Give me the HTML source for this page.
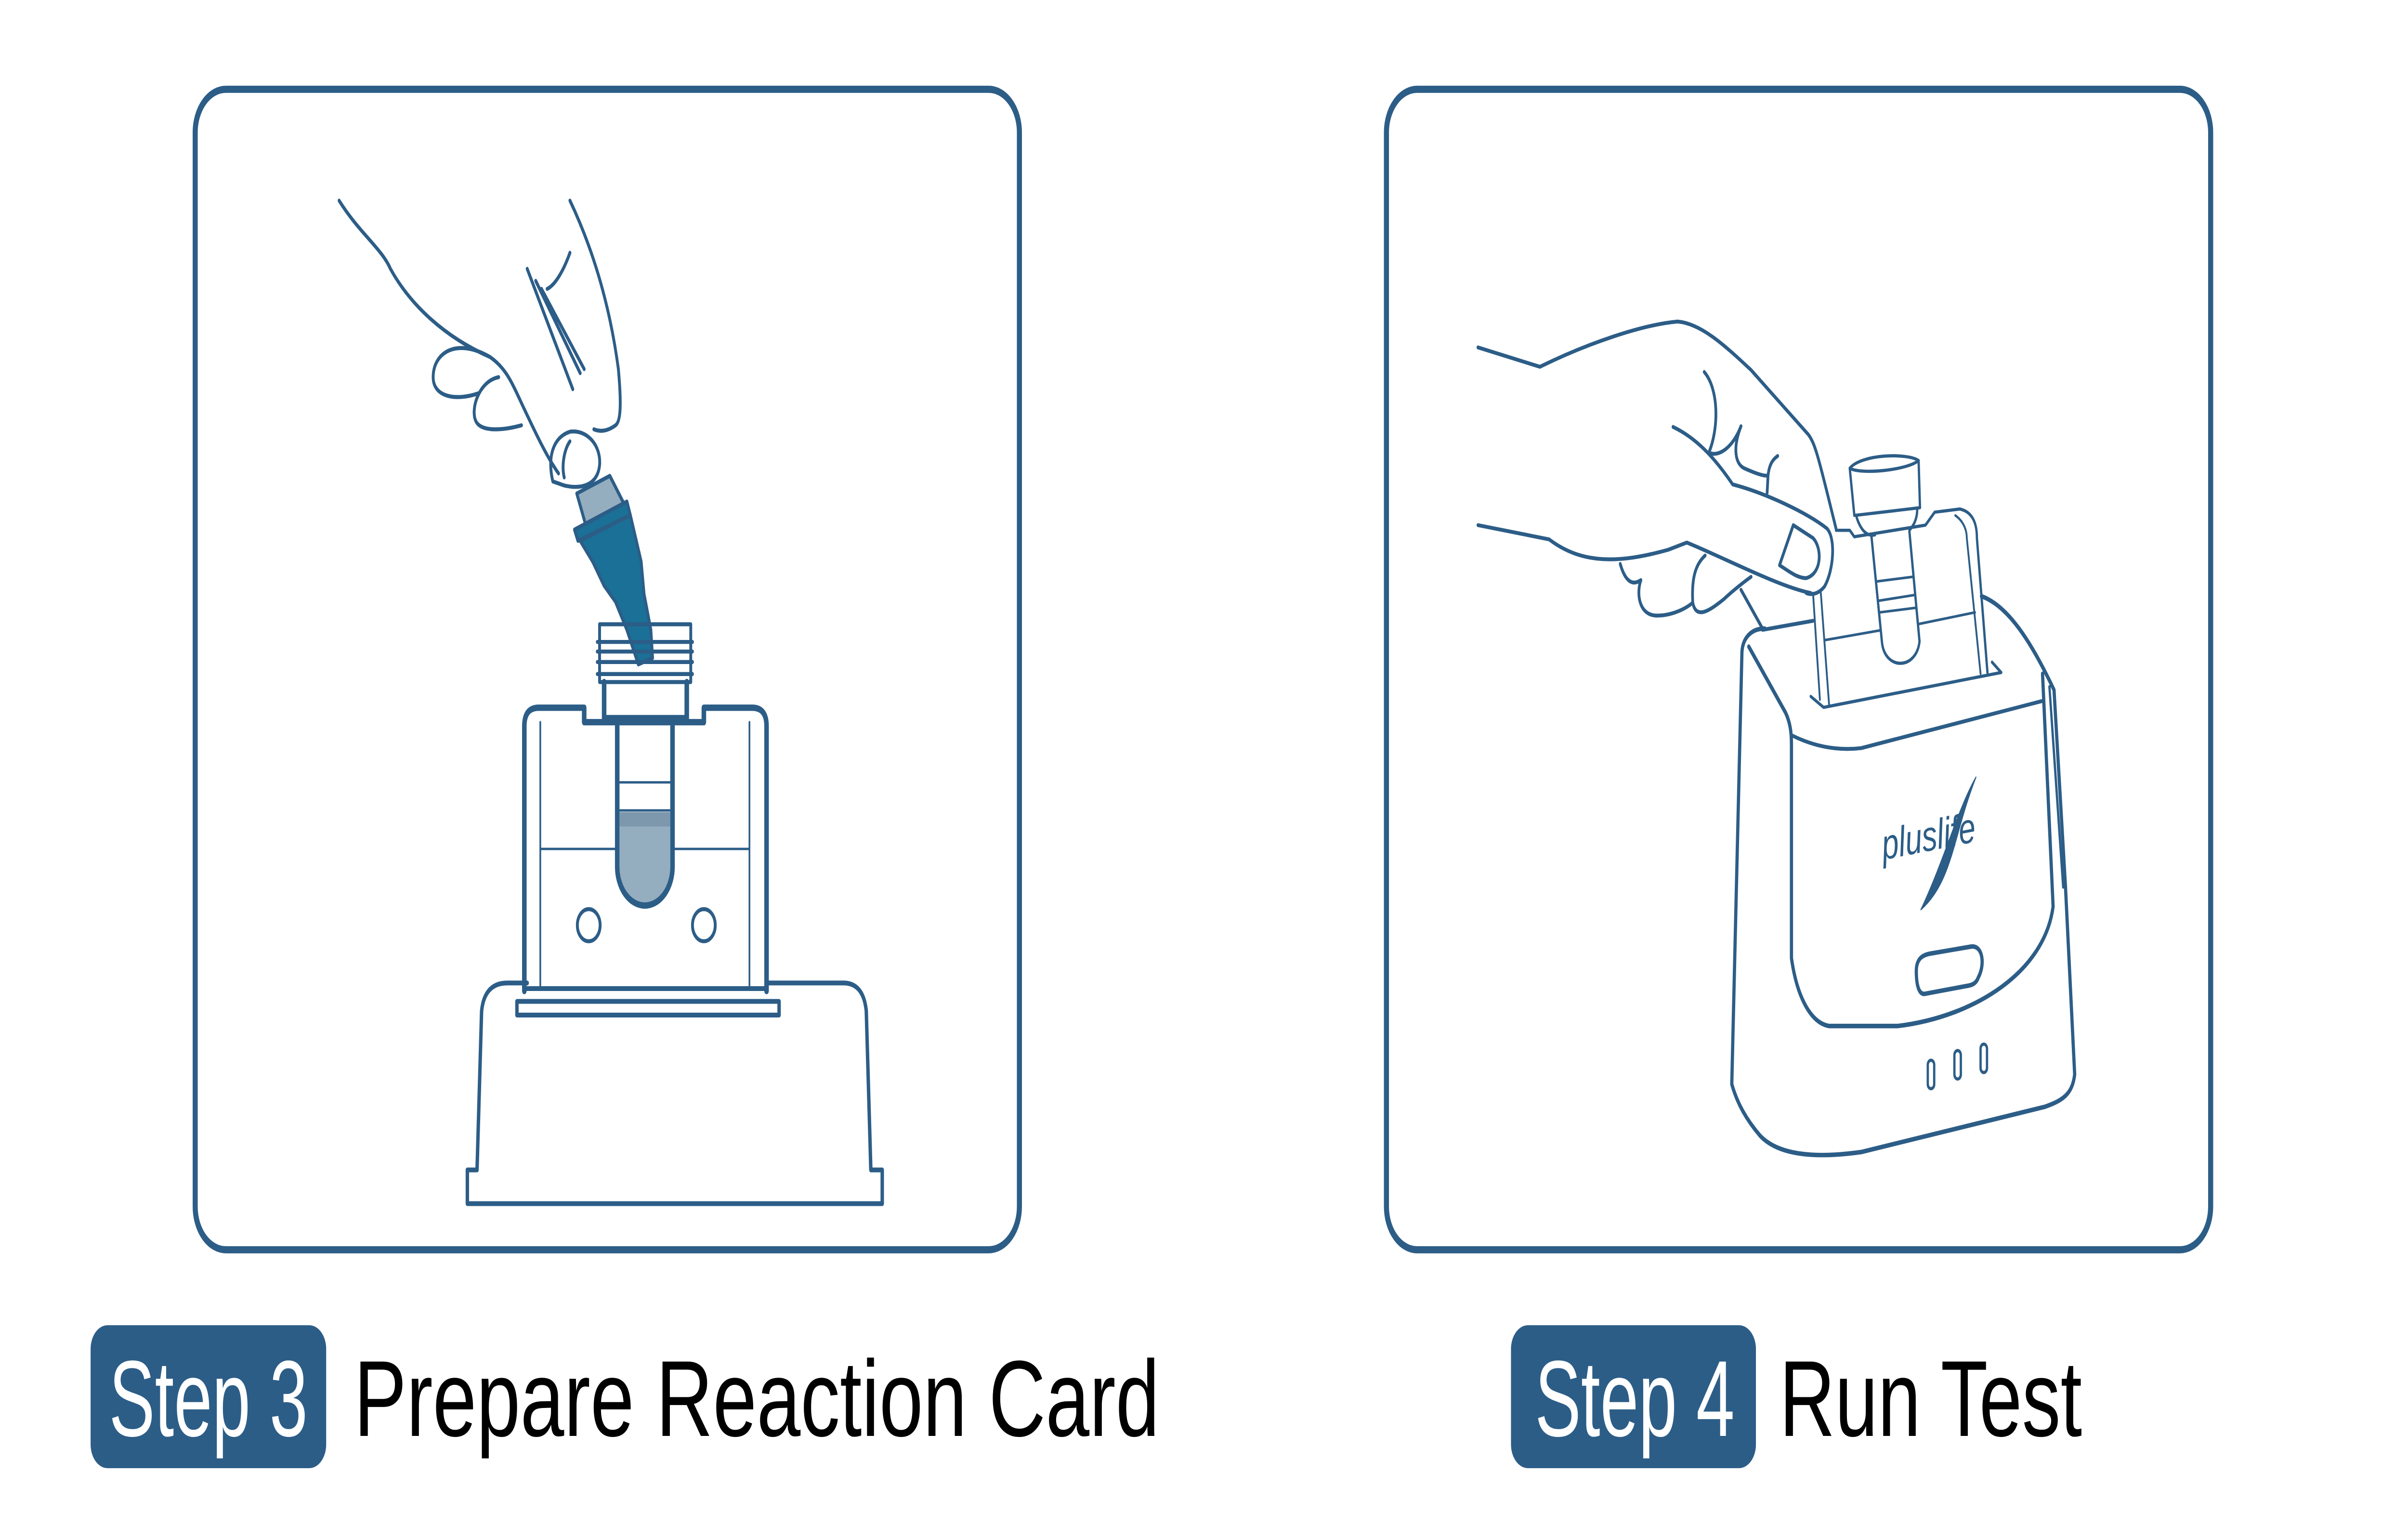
<!DOCTYPE html>
<html><head><meta charset="utf-8"><style>
html,body{margin:0;padding:0;background:#fff;width:100%;height:100%;overflow:hidden}
svg{display:block;width:100vw;height:100vh}
</style></head><body>
<svg viewBox="0 0 1568 711.3" preserveAspectRatio="none" xmlns="http://www.w3.org/2000/svg">
<rect x="0" y="0" width="1568" height="711.3" fill="#fff"/>
<rect x="127.1" y="41.3" width="536.7" height="536.7" rx="20" fill="none" stroke="#2c5d87" stroke-width="3.3"/>
<rect x="902.8" y="41.3" width="536.7" height="536.7" rx="20" fill="none" stroke="#2c5d87" stroke-width="3.3"/>

<rect x="59" y="612.9" width="153.4" height="66.1" rx="11" fill="#2c5d87"/>
<text x="71" y="664.1" font-family="Liberation Sans, sans-serif" font-size="50" fill="#fff" textLength="129.4" lengthAdjust="spacingAndGlyphs">Step 3</text>
<text x="230.5" y="664.1" font-family="Liberation Sans, sans-serif" font-size="50" fill="#000" textLength="524.5" lengthAdjust="spacingAndGlyphs">Prepare Reaction Card</text>

<rect x="983.9" y="612.9" width="159.5" height="66.1" rx="11" fill="#2c5d87"/>
<text x="999.5" y="664.1" font-family="Liberation Sans, sans-serif" font-size="50" fill="#fff" textLength="130" lengthAdjust="spacingAndGlyphs">Step 4</text>
<text x="1158.7" y="664.1" font-family="Liberation Sans, sans-serif" font-size="50" fill="#000" textLength="197" lengthAdjust="spacingAndGlyphs">Run Test</text>

<g transform="translate(111.35,22.27) scale(0.3711)" fill="none" stroke="#2c5d87" stroke-width="5" stroke-linejoin="round" stroke-linecap="round">
  <path d="M295,190 C330,230 370,250 385,275 C420,320 480,360 560,385 C590,400 600,420 620,450 C640,480 660,510 680,530"/>
  <path d="M560,385 C500,360 460,380 460,410 C460,435 500,440 540,430"/>
  <path d="M575,410 C540,415 525,450 535,465 C545,480 590,475 615,470"/>
  <path d="M670,540 C660,510 670,485 700,478 C730,475 755,495 752,520 C748,545 720,550 690,545 Z"/>
  <path d="M700,490 C690,500 685,520 690,535"/>
  <path d="M700,190 C740,250 770,320 785,400 C790,440 790,465 780,470 C765,478 752,478 742,475"/>
  <path d="M700,255 C690,275 675,295 660,300"/>
  <path d="M625,275 L705,425 M640,290 L718,405 M650,300 L725,400"/>
  <path d="M712,555 L770,533 L800,575 L730,600 Z" fill="#94aec0"/>
  <path d="M708,600 L800,565 L806,582 L714,614 Z" fill="#1a7096"/>
  <path d="M718,614 L806,582 L825,640 L830,680 L842,725 L845,760 L820,768 L800,725 L780,690 L760,670 L740,640 Z" fill="#1a7096"/>
  <path d="M752,718 L912,718 L912,790 L752,790 Z"/>
  <path d="M748,740 L915,740 M748,752 L915,752 M748,765 L915,765 M748,780 L915,780"/>
  <path d="M760,790 L760,835 L905,835 L905,790" stroke-width="8"/>
  <path d="M620,1175 L620,845 Q620,822 645,822 L725,822 L725,840 L935,840 L935,822 L1020,822 Q1045,822 1045,845 L1045,1175" stroke-width="8"/>
  <path d="M648,840 L648,1170 M1015,840 L1015,1170 M648,998 L782,998 M880,998 L1015,998" stroke-width="3"/>
  <path d="M787,952 L876,952 L876,1020 A44,44 0 0 1 787,1020 Z" fill="#94aec0" stroke="none"/>
  <path d="M787,952 L876,952 L876,970 L787,970 Z" fill="#7d98ad" stroke="none"/>
  <path d="M783,845 L783,1020 A48,48 0 0 0 880,1020 L880,845" stroke-width="8"/>
  <path d="M787,915 L876,915 M787,950 L876,950" stroke-width="3"/>
  <circle cx="733" cy="1093" r="20"/>
  <circle cx="935" cy="1093" r="20"/>
  <path d="M620,1172 L1045,1172" stroke-width="6"/>
  <path d="M607,1188 L607,1205 L1067,1205 L1067,1188 Z" stroke-width="6"/>
  <path d="M625,1165 L590,1165 Q550,1165 545,1200 L537,1398 L520,1398 L520,1440 L1248,1440 L1248,1398 L1228,1398 L1220,1200 Q1215,1165 1180,1165 L1045,1165" stroke-width="6"/>
</g>

<g transform="translate(913.06,111.35) scale(0.2989)" fill="none" stroke="#2c5d87" stroke-width="6" stroke-linejoin="round" stroke-linecap="round">
  <path d="M165,165 L300,195 C400,160 520,130 600,125 C650,128 700,160 760,200 L885,300 C900,315 905,330 945,445"/>
  <path d="M165,440 L320,462 C390,500 470,500 580,478 L620,467 C700,490 820,535 890,545"/>
  <path d="M590,288 C640,305 680,335 720,377 C790,390 880,420 925,445 C945,460 940,510 920,535 C905,548 890,548 880,545"/>
  <path d="M852,440 L895,460 C915,475 915,515 880,522 C860,522 840,510 822,502 Z"/>
  <path d="M658,203 C690,230 690,290 668,328 C690,335 720,320 738,287"/>
  <path d="M738,287 C720,320 725,345 745,352 C770,360 790,365 797,363 L795,390 M797,363 C800,345 808,338 818,333"/>
  <path d="M475,500 C485,525 500,535 520,525 C510,545 515,580 555,580 C590,580 620,568 633,560 C630,520 640,500 660,487"/>
  <path d="M633,560 C640,585 665,575 700,555 C730,535 760,520 760,520"/>
  <path d="M738,540 L785,600"/>
  <path d="M945,448 L975,448 L985,458 L1140,440 L1160,420 L1215,415 C1245,420 1252,440 1252,460 L1275,668" stroke-width="5"/>
  <path d="M1205,425 C1225,435 1230,450 1230,460 L1260,670" stroke-width="4"/>
  <path d="M895,545 L910,710 M912,545 L930,718" stroke-width="4"/>
  <path d="M920,618 L1040,603 M1125,593 L1248,575" stroke-width="4"/>
  <path d="M975,352 C1000,362 1100,355 1125,340 C1100,328 1000,330 975,352 Z" stroke-width="5"/>
  <path d="M975,352 L985,425 L1128,413 L1125,340" stroke-width="5"/>
  <path d="M990,428 C1000,450 1015,458 1030,455 M1105,448 C1115,440 1122,430 1122,415" stroke-width="5"/>
  <path d="M1022,455 L1045,620 C1050,665 1120,665 1127,620 L1105,450" stroke-width="5"/>
  <path d="M1035,527 L1112,520 M1038,557 L1117,548 M1040,575 L1118,568" stroke-width="4"/>
  <path d="M890,705 L918,722 L1305,668 L1285,652" stroke-width="5"/>
  <path d="M785,602 L895,588" stroke-width="6"/>
  <path d="M1262,550 C1320,565 1370,620 1420,695 L1445,1000 L1465,1290 C1460,1320 1440,1330 1400,1340 L1000,1410 C900,1420 820,1415 780,1385 C750,1360 730,1335 718,1305 L740,640 C740,615 760,600 790,600" stroke-width="7"/>
  <path d="M755,628 L835,730 C845,745 848,760 848,780 L848,1110 C860,1170 890,1210 930,1215 L1080,1215 C1250,1200 1400,1130 1418,1030 L1395,670" stroke-width="7"/>
  <path d="M848,765 C890,780 940,790 1000,785 L1395,712" stroke-width="6"/>
  <path d="M1410,690 L1440,1000" stroke-width="5"/>
  <path d="M1120,1130 C1120,1110 1135,1105 1150,1103 L1240,1092 C1265,1090 1270,1120 1255,1140 C1250,1150 1240,1152 1230,1153 L1140,1165 C1125,1168 1120,1150 1120,1130 Z" stroke-width="7"/>
  <rect x="1145" y="1268" width="14" height="44" rx="7" stroke-width="5"/>
  <rect x="1203" y="1253" width="14" height="44" rx="7" stroke-width="5"/>
  <rect x="1260" y="1243" width="14" height="44" rx="7" stroke-width="5"/>
  <path d="M1130,1035 C1200,990 1200,920 1250,830 C1210,880 1180,960 1130,1035 Z" fill="#2c5d87" stroke-width="2"/>
  <text x="1048" y="958" transform="rotate(-8 1048 958)" font-family="Liberation Sans, sans-serif" font-style="italic" font-size="66" fill="#2c5d87" stroke="none">pluslife</text>
</g>
</svg>
</body></html>
